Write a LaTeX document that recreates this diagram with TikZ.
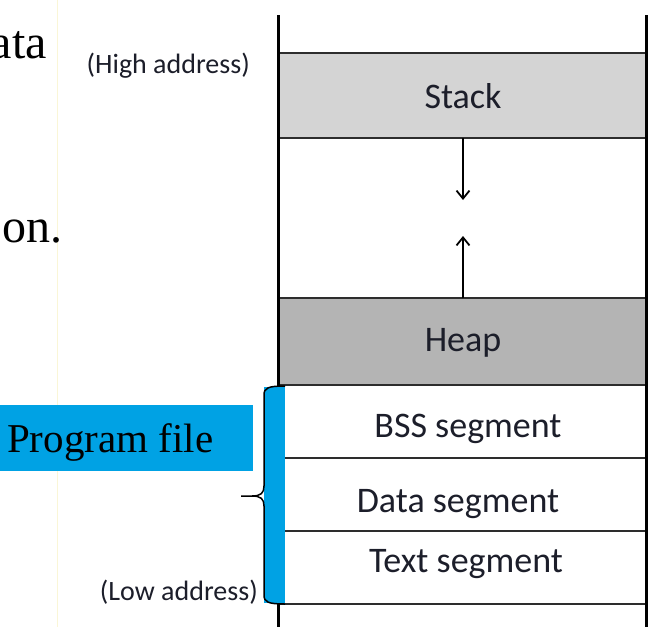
\documentclass[tikz,border=0pt]{standalone}
\usepackage{fontspec}
\setmainfont{Liberation Serif}
\newfontfamily\calib{Carlito}
\usetikzlibrary{arrows.meta}
\definecolor{pfblue}{RGB}{0,162,228}
\definecolor{stackgray}{RGB}{212,212,212}
\definecolor{heapgray}{RGB}{180,180,180}
\definecolor{labelc}{RGB}{28,30,42}
\definecolor{faint}{RGB}{250,246,215}
\tikzset{
  seglabel/.style={font=\calib\fontsize{36}{40}\selectfont, text=labelc, anchor=base, inner sep=0pt},
  addrlabel/.style={font=\calib\fontsize{28}{32}\selectfont, text=labelc, anchor=base east, inner sep=0pt},
  segfill/.style={draw=none, inner sep=0pt, minimum width=368pt, anchor=north},
  hline/.style={line width=2pt, draw={rgb,255:red,45;green,45;blue,45}},
  vline/.style={line width=3pt, draw=black},
  growarrow/.style={line width=1.8pt, -{Straight Barb[length=8pt,width=13pt,line width=1.8pt]}},
  slidetext/.style={font=\fontsize{48}{52}\selectfont, anchor=base east, inner sep=0pt}
}
\begin{document}
\begin{tikzpicture}[x=1pt,y=-1pt]
\useasboundingbox (0,0) rectangle (667,627);
% faint slide guide line
\draw[faint, line width=1pt] (57,0) -- (57,627);
% slide text fragments
\node[slidetext] (ata) at (47,58) {ata};
\node[slidetext] (on) at (63,242) {on.};
% filled segments
\node[segfill, fill=stackgray, minimum height=85pt] (stack) at (462,53) {};
\node[segfill, fill=heapgray, minimum height=86pt] (heap) at (462,298) {};
% horizontal lines
\draw[hline] (278,53) -- (646,53);
\draw[hline] (278,138) -- (646,138);
\draw[hline] (278,298) -- (646,298);
\draw[hline] (278,385) -- (646,385);
\draw[hline] (278,458) -- (646,458);
\draw[hline] (278,531) -- (646,531);
\draw[hline] (278,604) -- (646,604);
% vertical lines
\draw[vline] (278,15) -- (278,627);
\draw[vline] (646,15) -- (646,627);
% labels
\node[seglabel] (stacklbl) at (463,108) {Stack};
\node[seglabel] (heaplbl) at (463,351) {Heap};
\node[seglabel] (bss) at (468,437) {BSS segment};
\node[seglabel] (data) at (458,512) {Data segment};
\node[seglabel] (text) at (466,572) {Text segment};
% growth arrows
\coordinate (stackbot) at (463,138);
\coordinate (downend) at (463,200);
\coordinate (heaptop) at (463,298);
\coordinate (upend) at (463,236);
\draw[growarrow] (stackbot) -- (downend);
\draw[growarrow] (heaptop) -- (upend);
% addresses
\node[addrlabel] (high) at (250,73) {(High address)};
\node[addrlabel] (low) at (258,600) {(Low address)};
% blue bar and brace
\fill[pfblue] (264,387) rectangle (285,603);
\draw[line width=1.5pt, black] (285,386) .. controls (268,386) and (264,388) .. (264,395) -- (264,486) .. controls (264,493) and (261,496) .. (252,496) -- (241,496);
\draw[line width=1.5pt, black] (285,604) .. controls (268,604) and (264,602) .. (264,595) -- (264,506) .. controls (264,499) and (261,496) .. (252,496);
% program file box
\node[fill=pfblue, minimum width=253pt, minimum height=66pt, inner sep=0pt, anchor=north west] (pfbox) at (0,405) {};
\node[font=\fontsize{41}{46}\selectfont, anchor=base west, inner sep=0pt] (pf) at (7,452) {Program file};
\end{tikzpicture}
\end{document}
